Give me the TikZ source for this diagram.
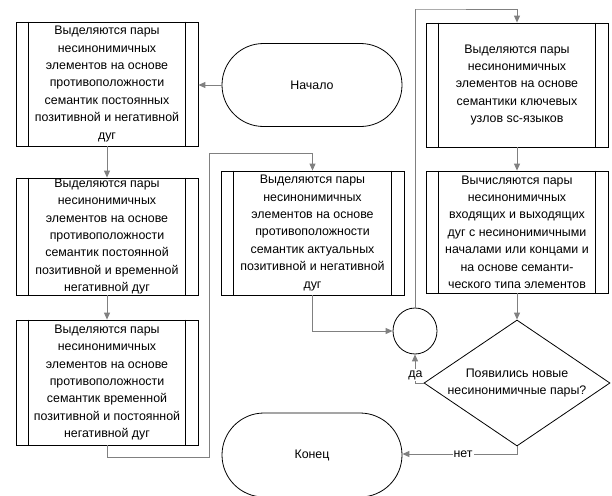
\documentclass[tikz,border=0pt]{standalone}
\usepackage{fontspec}
\setmainfont{Liberation Sans}
\usetikzlibrary{arrows.meta,shapes.geometric,shapes.misc}
\tikzset{
  txt/.style={font=\fontsize{12.4}{17.4}\selectfont, align=center},
  proc/.style={txt, draw=black, line width=0.8pt, minimum width=182pt, inner sep=0pt},
  term/.style={txt, draw=black, line width=0.8pt, rounded rectangle, minimum width=180pt, minimum height=83pt, inner sep=0pt},
  conn/.style={draw=black!50, line width=0.9pt, -{Triangle[length=7pt,width=6pt]}},
  lbl/.style={txt, fill=white, inner sep=1pt}
}
\newcommand{\sidelines}[1]{%
  \draw[line width=0.8pt] ([xshift=13pt]#1.north west) -- ([xshift=13pt]#1.south west);
  \draw[line width=0.8pt] ([xshift=-13pt]#1.north east) -- ([xshift=-13pt]#1.south east);}
\begin{document}
\begin{tikzpicture}[x=1pt,y=-1pt]
\useasboundingbox (0,0) rectangle (612,495);
\node[proc, minimum height=124pt] (b1) at (107,84) {Выделяются пары\\несинонимичных\\элементов на основе\\противоположности\\семантик постоянных\\позитивной и негативной\\дуг};
\node[proc, minimum height=117pt] (b2) at (107,236.5) {Выделяются пары\\несинонимичных\\элементов на основе\\противоположности\\семантик постоянной\\позитивной и временной\\негативной дуг};
\node[proc, minimum height=125pt] (b3) at (107,382.5) {Выделяются пары\\несинонимичных\\элементов на основе\\противоположности\\семантик временной\\позитивной и постоянной\\негативной дуг};
\node[proc, minimum width=183pt, minimum height=124pt] (b4) at (312.5,233) {Выделяются пары\\несинонимичных\\элементов на основе\\противоположности\\семантик актуальных\\позитивной и негативной\\дуг};
\node[proc, minimum height=124pt] (b5) at (517,85) {Выделяются пары\\несинонимичных\\элементов на основе\\семантики ключевых\\узлов sc-языков};
\node[proc, minimum height=122pt] (b6) at (517,232) {Вычисляются пары\\несинонимичных\\входящих и выходящих\\дуг с несинонимичными\\началами или концами и\\на основе семанти-\\ческого типа элементов};
\foreach \n in {b1,b2,b3,b4,b5,b6} {\sidelines{\n}}
\node[term] (start) at (312,85) {Начало};
\node[term, minimum height=84pt] (fin) at (312,455) {Конец};
\node[draw=black, line width=0.8pt, ellipse, minimum width=44pt, minimum height=46pt, inner sep=0pt] (circ) at (415,331) {};
\node[txt, draw=black, line width=0.8pt, diamond, aspect=1.48, minimum width=186pt, minimum height=126pt, inner sep=0pt] (dia) at (517,383) {Появились новые\\несинонимичные пары?};
\coordinate (k1) at (209,457);
\coordinate (k2) at (209,153);
\coordinate (k3) at (416,9);
\coordinate (k4) at (415,383);
\coordinate (k5) at (517,454);
\draw[conn] (start.west) -- (b1.east |- start.west);
\draw[conn] (b1.south) -- (b2.north);
\draw[conn] (b2.south) -- (b3.north);
\draw[conn] (b3.south) |- (k1) -- (k2) -| (b4.north);
\draw[conn] (b4.south) |- (circ.west);
\draw[conn] (circ.north) |- (k3) -| (b5.north);
\draw[conn] (b5.south) -- (b6.north);
\draw[conn] (b6.south) -- (dia.north);
\draw[conn] (dia.west) -- (k4) -- (circ.south);
\node[lbl] (yes) at (415.5,375) {да};
\draw[conn] (dia.south) -- (k5) -- (fin.east |- k5);
\node[lbl] (no) at (463,454) {нет};
\end{tikzpicture}
\end{document}
